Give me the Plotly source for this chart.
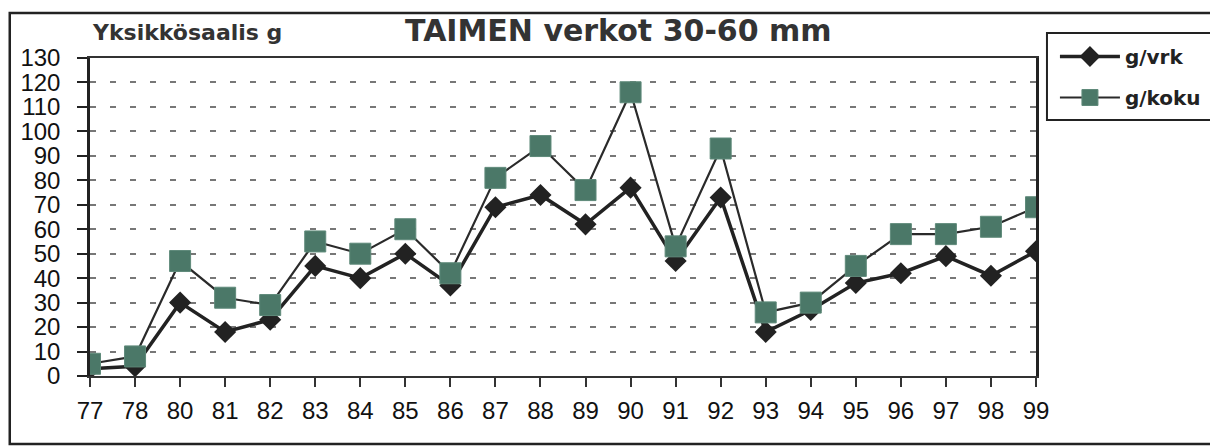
import plotly.graph_objects as go

years = ["77", "78", "80", "81", "82", "83", "84", "85", "86", "87", "88",
         "89", "90", "91", "92", "93", "94", "95", "96", "97", "98", "99"]
g_vrk = [3, 4, 30, 18, 23, 45, 40, 50, 37, 69, 74, 62, 77, 47, 73, 18, 27, 38, 42, 49, 41, 51]
g_koku = [5, 8, 47, 32, 29, 55, 50, 60, 42, 81, 94, 76, 116, 53, 93, 26, 30, 45, 58, 58, 61, 69]
y_ticks = list(range(0, 131, 10))

# page has an 8px body margin; work in figure coordinates = page - 8
OFF = 8
W, H = 1210, 438
L, R, T, B = 90 - OFF, 1039 - OFF, 58 - OFF, 376 - OFF
pw, ph = R - L, B - T

def px(x):
    return (x - OFF - L) / pw

def py(y):
    return (B - (y - OFF)) / ph

FONT = "Liberation Sans, Arial, sans-serif"
BFONT = "DejaVu Sans, Liberation Sans, sans-serif"

fig = go.Figure()
fig.add_trace(go.Scatter(
    x=years, y=g_vrk, name="g/vrk", mode="lines+markers", legendgroup="a",
    line=dict(color="#222222", width=3.5),
    marker=dict(symbol="diamond", size=17, color="#222222"),
))
fig.add_trace(go.Scatter(
    x=years, y=g_koku, name="g/koku", mode="lines+markers", legendgroup="b",
    line=dict(color="#2a2a2a", width=2.2),
    marker=dict(symbol="square", size=21, color="#4b7868",
                line=dict(color="#5f8a7a", width=1)),
))

fig.update_layout(
    width=W, height=H,
    margin=dict(l=L, r=W - R, t=T, b=H - B, pad=0),
    paper_bgcolor="white", plot_bgcolor="white",
    font=dict(family=FONT, color="#111111"),
    showlegend=True,
    legend=dict(
        x=px(1058), y=py(37), xanchor="left", yanchor="top",
        borderwidth=0, bgcolor="rgba(0,0,0,0)",
        font=dict(size=20, family=BFONT, color="#222222", weight="bold"),
        itemwidth=60, tracegroupgap=12,
    ),
    xaxis=dict(
        type="category", range=[0, len(years) - 1],
        showline=True, linecolor="#333333", linewidth=2, mirror=True,
        ticks="outside", ticklen=9, tickcolor="#333333", tickwidth=1.5,
        tickfont=dict(size=24, family=FONT, color="#111111"),
        ticklabelstandoff=3,
        showgrid=False, zeroline=False,
    ),
    yaxis=dict(
        range=[0, 130], tickvals=y_ticks,
        showline=True, linecolor="#222222", linewidth=2.5, mirror=True,
        ticks="outside", ticklen=10, tickcolor="#222222", tickwidth=1.5,
        tickfont=dict(size=24, family=FONT, color="#111111"),
        ticklabelstandoff=12,
        showgrid=True, gridcolor="#777777", gridwidth=1.5, griddash="6px,14px",
        zeroline=False,
    ),
)

# outer frame
fig.add_shape(type="rect", xref="paper", yref="paper",
              x0=px(9.5), x1=px(1215), y0=py(444), y1=py(13),
              line=dict(color="#222222", width=2.5), layer="below")
# legend box
fig.add_shape(type="rect", xref="paper", yref="paper",
              x0=px(1050), x1=px(1215), y0=py(120), y1=py(33),
              line=dict(color="#222222", width=2), layer="below")

fig.add_annotation(text="<b>TAIMEN verkot 30-60 mm</b>", xref="paper", yref="paper",
                   x=px(620), y=py(30), xanchor="center", yanchor="middle",
                   showarrow=False, font=dict(size=30, family=BFONT, color="#333333"))
fig.add_annotation(text="<b>Yksikkösaalis g</b>", xref="paper", yref="paper",
                   x=px(187), y=py(33), xanchor="center", yanchor="middle",
                   showarrow=False, font=dict(size=22, family=BFONT, color="#333333"))

fig.write_html("out.html")
